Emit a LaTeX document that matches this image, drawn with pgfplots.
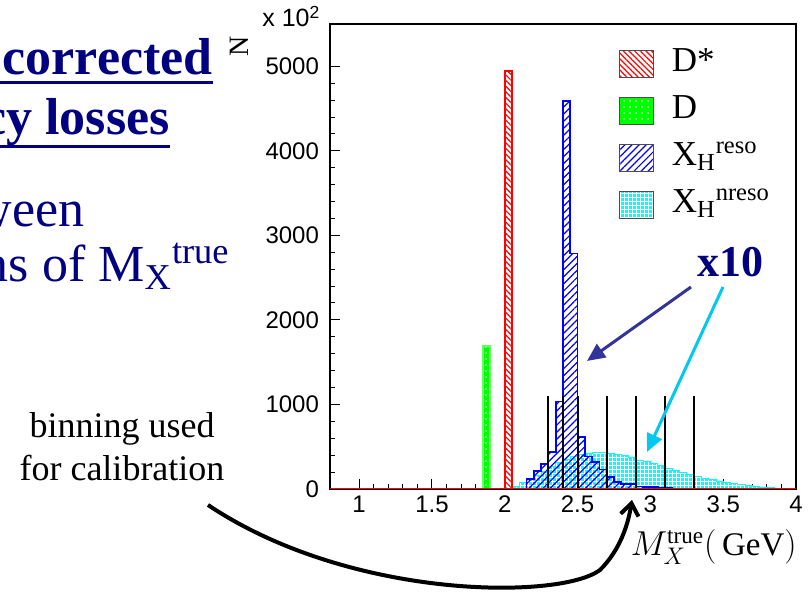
\documentclass[border=0pt]{standalone}
\usepackage{pgfplots}
\pgfplotsset{compat=1.18}
\usepackage{fontspec}
\setmainfont{Liberation Serif}
\newfontfamily\arial{Liberation Sans}
\usetikzlibrary{patterns,patterns.meta,arrows.meta}
\definecolor{navy}{RGB}{0,0,128}
\definecolor{arrowblue}{RGB}{51,51,153}
\definecolor{arrowcyan}{RGB}{0,200,240}
\definecolor{lime}{RGB}{0,255,0}
\definecolor{aqua}{RGB}{0,255,255}
\begin{document}
\begin{tikzpicture}[x=0.5pt,y=0.5pt]
\useasboundingbox (0,0) rectangle (811,593);
\clip (0,0) rectangle (811,593);
% slide text (clipped at the left edge)
\node[anchor=base east, inner sep=0, text=navy, font=\fontsize{26}{30}\selectfont\bfseries] at (213,518) {corrected};
\draw[navy, line width=1.5pt] (-10,510) -- (213,510);
\node[anchor=base east, inner sep=0, text=navy, font=\fontsize{26}{30}\selectfont\bfseries] at (170,458) {efficiency losses};
\draw[navy, line width=1.5pt] (-10,446) -- (170,446);
\node[anchor=base east, inner sep=0, text=navy, font=\fontsize{26}{30}\selectfont] at (85,366) {differences between};
\node[anchor=base east, inner sep=0, text=navy, font=\fontsize{26}{30}\selectfont] at (230,311) {distributions of M\textsubscript{X}\textsuperscript{true}};
\node[anchor=base, inner sep=0, font=\fontsize{18}{21}\selectfont] at (122,155) {binning used};
\node[anchor=base, inner sep=0, font=\fontsize{18}{21}\selectfont] at (122,112) {for calibration};
\begin{axis}[
  at={(165pt,52pt)}, anchor=south west,
  scale only axis, width=233pt, height=232.5pt,
  xmin=0.8, xmax=4, ymin=0, ymax=5500,
  tick align=inside, xtick pos=bottom, ytick pos=left,
  xtick={1,1.5,2,2.5,3,3.5,4}, minor x tick num=4,
  ytick={0,1000,2000,3000,4000,5000}, minor y tick num=4,
  major tick length=5pt, minor tick length=2.5pt,
  tick style={black, line width=0.5pt},
  axis line style={line width=0.75pt},
  scaled y ticks=false,
  ticklabel style={font=\arial\fontsize{12}{14}\selectfont},
  yticklabel style={xshift=-2pt},
  /pgf/number format/assume math mode=true,
  /pgf/number format/1000 sep={},
  legend style={at={(rel axis cs:0.607,0.965)}, anchor=north west, draw=none, fill=none,
    font=\fontsize{17.5}{20}\selectfont, row sep=4.5pt,
    nodes={inner sep=1.5pt, text height=12pt, text depth=4pt}},
  legend cell align=left,
  reverse legend,
  legend image code/.code={\draw[#1, draw=black!70, line width=0.6pt] (0pt,-6.75pt) rectangle (17pt,6.75pt); \path (24pt,0pt);},
]
% X_H non-resonant
\addplot[const plot mark left, draw=aqua, line width=0.3pt, fill=aqua,
  postaction={pattern color=white, pattern={Hatch[angle=0,distance=2pt,line width=0.35pt]}}]
coordinates {(2.05,30) (2.10,75) (2.15,110) (2.20,160) (2.25,210) (2.30,270) (2.35,310) (2.40,350) (2.45,385) (2.50,410) (2.55,425) (2.60,434) (2.65,430) (2.70,420) (2.75,410) (2.80,398) (2.85,380) (2.90,345) (2.95,325) (3.00,305) (3.05,280) (3.10,245) (3.15,222) (3.20,192) (3.25,170) (3.30,150) (3.35,130) (3.40,110) (3.45,95) (3.50,80) (3.55,65) (3.60,55) (3.65,45) (3.70,32) (3.75,24) (3.80,16) (3.85,8) (3.90,8)} \closedcycle;
\addlegendentry{X\textsubscript{H}\textsuperscript{nreso}}
% X_H resonant
\addplot[const plot mark left, draw=blue, line width=0.9pt,
  pattern={Lines[angle=45,distance=2.5pt,line width=0.6pt]}, pattern color=blue]
coordinates {(2.15,115) (2.20,217) (2.25,296) (2.30,438) (2.35,1035) (2.40,4585) (2.45,2785) (2.50,619) (2.55,385) (2.60,315) (2.65,230) (2.70,146) (2.75,87) (2.80,59) (2.85,55) (2.90,30) (2.95,25) (3.00,20) (3.05,18) (3.10,15) (3.15,15)} \closedcycle;
\addlegendentry{X\textsubscript{H}\textsuperscript{reso}}
% D
\addplot[const plot mark left, draw=lime!60!white, line width=0.8pt, fill=lime,
  postaction={pattern color=white, pattern={Dots[distance=3pt,radius=0.45pt]}}]
coordinates {(1.85,1690) (1.90,1690)} \closedcycle;
\addlegendentry{D}
% D*
\addplot[const plot mark left, draw=red, line width=1pt,
  pattern={Lines[angle=-45,distance=2pt,line width=0.6pt]}, pattern color=red]
coordinates {(2.00,4950) (2.05,4950)} \closedcycle;
\addlegendentry{D*}
% binning lines
\addplot[black, line width=1pt, ycomb, forget plot]
coordinates {(2.3,1100) (2.4,1100) (2.5,1100) (2.7,1100) (2.9,1100) (3.1,1100) (3.3,1100)};
% baseline
\addplot[red, line width=0.8pt, forget plot] coordinates {(0.8,0) (4,0)};
\end{axis}
% axis titles
\node[rotate=90, inner sep=0, font=\fontsize{14}{16}\selectfont] at (239,547) {N};
\node[anchor=base west, inner sep=0, font=\arial\fontsize{12.5}{14}\selectfont] at (262,566) {x 10\textsuperscript{2}};
\node[anchor=east, inner sep=0, font=\fontsize{16.5}{19}\selectfont] at (797,46) {$M_X^{\mathrm{true}}(\,\mathrm{GeV})$};
% annotations
\node[anchor=base west, inner sep=0, text=navy, font=\fontsize{22}{26}\selectfont\bfseries] at (697,316) {x10};
\draw[arrowblue, line width=1.5pt, -{Triangle[length=9pt,width=8pt]}] (691,306) -- (587,232);
\draw[arrowcyan, line width=1.5pt, -{Triangle[length=9pt,width=8pt]}] (723,306) -- (647,141);
\draw[black, line width=2pt, -{Straight Barb[length=6pt,width=9pt]}] (208,88) .. controls (350,-7) and (560,-7) .. (600,23) .. controls (620,43) and (628,68) .. (632,93);
\end{tikzpicture}
\end{document}
